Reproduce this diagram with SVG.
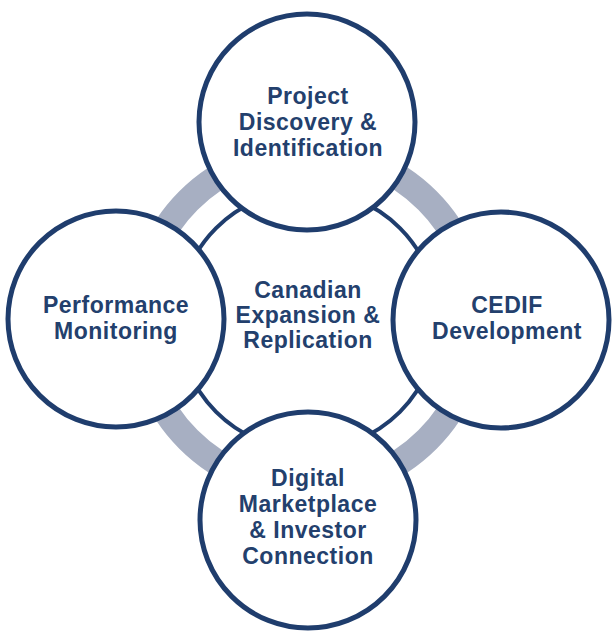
<svg xmlns="http://www.w3.org/2000/svg" width="616" height="638" viewBox="0 0 616 638">
<style>
.node{fill:#ffffff;stroke:#1f3d6d;stroke-width:5}
.lbl{font-family:"Liberation Sans",Arial,sans-serif;font-weight:bold;font-size:23px;fill:#23406d;text-anchor:middle;letter-spacing:0.5px}
</style>
<rect width="616" height="638" fill="#ffffff"/>
<g id="connectors">
<circle cx="308" cy="320" r="169" fill="none" stroke="#a7afc2" stroke-width="26"/>
<circle cx="308" cy="320" r="130" fill="none" stroke="#1f3d6d" stroke-width="4"/>
</g>
<g id="center">
<text class="lbl" x="308" y="298">Canadian</text>
<text class="lbl" x="308" y="323">Expansion &amp;</text>
<text class="lbl" x="308" y="348">Replication</text>
</g>
<g id="top">
<circle class="node" cx="307" cy="122" r="108"/>
<text class="lbl" x="308" y="104">Project</text>
<text class="lbl" x="308" y="130">Discovery &amp;</text>
<text class="lbl" x="308" y="156">Identification</text>
</g>
<g id="right">
<circle class="node" cx="501" cy="320" r="108"/>
<text class="lbl" x="507" y="313">CEDIF</text>
<text class="lbl" x="507" y="339">Development</text>
</g>
<g id="bottom">
<circle class="node" cx="308" cy="520" r="108"/>
<text class="lbl" x="308" y="486">Digital</text>
<text class="lbl" x="308" y="512">Marketplace</text>
<text class="lbl" x="308" y="538">&amp; Investor</text>
<text class="lbl" x="308" y="564">Connection</text>
</g>
<g id="left">
<circle class="node" cx="116" cy="319" r="108"/>
<text class="lbl" x="116" y="313">Performance</text>
<text class="lbl" x="116" y="339">Monitoring</text>
</g>
</svg>
